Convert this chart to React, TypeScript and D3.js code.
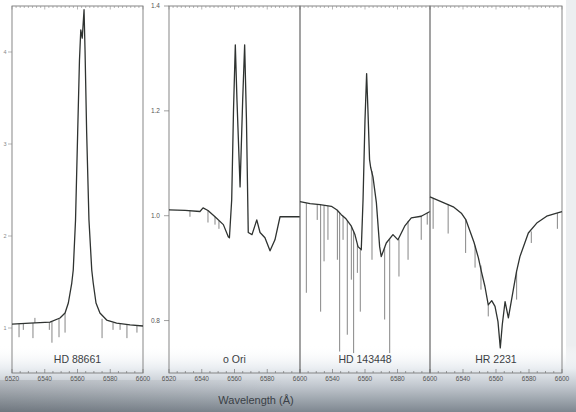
import React from "react";
import * as d3 from "d3";

// ---------- data ----------
const WAVE_DOMAIN = [6520, 6600];
const WAVE_TICKS = [6520, 6540, 6560, 6580, 6600];
const FLUX_TICKS = [0.8, 1.0, 1.2, 1.4];
const HD88661_TICKS = [1, 2, 3, 4];
const STAR_NAMES = ["HD 88661", "\u03bf Ori", "HD 143448", "HR 2231"];
const X_TITLE = "Wavelength (\u00c5)";

// [wavelength, normalised flux]
const HD88661: [number, number][] = [
  [6520, 1.043], [6531, 1.054], [6543.2, 1.065], [6549.3, 1.109], [6552.4, 1.163],
  [6554.4, 1.272], [6556.5, 1.489], [6557.4, 1.63], [6558.8, 2.174], [6560.1, 3.12],
  [6561.2, 3.91], [6562.0, 4.24], [6562.9, 4.15], [6564.0, 4.46], [6564.6, 4.02],
  [6565.6, 3.12], [6567.0, 2.174], [6568.7, 1.63], [6569.6, 1.489], [6571.3, 1.272],
  [6573.7, 1.163], [6577.8, 1.087], [6583.9, 1.054], [6592.1, 1.033], [6600, 1.022],
];
// [wavelength, continuum level, line depth]
const HD88661_LINES: [number, number, number][] = [
  [6524.3, 1.05, 0.9], [6526.9, 1.052, 0.98], [6532.8, 1.054, 0.89], [6534.0, 1.054, 1.11],
  [6542.8, 1.064, 0.98], [6544.4, 1.066, 0.84], [6548.7, 1.1, 0.9], [6552.4, 1.16, 0.95],
  [6575.0, 1.1, 0.89], [6581.7, 1.058, 0.98], [6586.0, 1.048, 0.98], [6590.2, 1.035, 0.89],
  [6596.3, 1.025, 0.95],
];

const OMI_ORI: [number, number][] = [
  [6520, 1.011], [6529.8, 1.01], [6538.9, 1.008], [6540.8, 1.015], [6543.8, 1.01],
  [6548.1, 0.998], [6553.2, 0.983], [6556.2, 0.96], [6556.9, 0.958], [6558.3, 1.031],
  [6559.4, 1.202], [6560.5, 1.326], [6561.5, 1.221], [6563.4, 1.055], [6565.0, 1.221],
  [6566.2, 1.326], [6567.3, 1.183], [6568.4, 0.968], [6570.7, 0.964], [6573.6, 0.992],
  [6575.6, 0.968], [6578.6, 0.958], [6581.7, 0.933], [6584.7, 0.954], [6587.8, 0.998],
  [6593.9, 0.998], [6600, 0.998],
];
const OMI_ORI_LINES: [number, number, number][] = [
  [6532.8, 1.01, 0.998], [6543.8, 1.01, 0.987], [6548.1, 0.998, 0.983], [6550.5, 0.99, 0.975],
];

const HD143448: [number, number][] = [
  [6520, 1.027], [6526.2, 1.023], [6532.3, 1.021], [6539.3, 1.018], [6542.8, 1.011],
  [6545.4, 1.002], [6548.3, 0.994], [6551.6, 0.98], [6553.8, 0.964], [6555.7, 0.941],
  [6557.7, 0.935], [6558.8, 1.031], [6560.0, 1.183], [6561.0, 1.271], [6561.8, 1.202],
  [6562.8, 1.107], [6563.5, 1.092], [6564.9, 1.074], [6567.0, 1.025], [6569.0, 0.941],
  [6570.0, 0.922], [6573.1, 0.948], [6577.2, 0.964], [6580.3, 0.954], [6584.4, 0.98],
  [6588.5, 0.996], [6594.6, 0.999], [6600, 1.008],
];
const HD143448_LINES: [number, number, number][] = [
  [6523.9, 1.024, 0.853], [6530.6, 1.021, 0.992], [6532.7, 1.021, 0.817], [6534.8, 1.02, 0.913],
  [6537.2, 1.019, 0.954], [6543.0, 1.011, 0.916], [6544.4, 1.005, 0.741], [6546.5, 1.0, 0.954],
  [6549.1, 0.99, 0.773], [6551.6, 0.98, 0.878], [6553.0, 0.97, 0.738], [6555.3, 0.945, 0.891],
  [6557.1, 0.935, 0.817], [6564.3, 1.085, 0.916], [6572.1, 0.94, 0.802], [6575.2, 0.955, 0.738],
  [6580.9, 0.955, 0.884], [6586.5, 0.99, 0.916], [6594.6, 1.0, 0.954], [6598.3, 1.006, 0.983],
];

const HR2231: [number, number][] = [
  [6520, 1.036], [6526.7, 1.027], [6534.1, 1.017], [6539.2, 1.004], [6541.8, 0.992],
  [6544.2, 0.971], [6546.7, 0.949], [6549.3, 0.92], [6551.2, 0.893], [6553.3, 0.865],
  [6555.3, 0.83], [6557.4, 0.838], [6559.4, 0.827], [6561.2, 0.798], [6562.6, 0.748],
  [6563.8, 0.792], [6565.5, 0.836], [6567.5, 0.805], [6570.5, 0.859], [6572.4, 0.893],
  [6574.5, 0.922], [6579.6, 0.967], [6584.7, 0.986], [6590.7, 0.999], [6596.8, 1.005],
  [6600, 1.008],
];
const HR2231_LINES: [number, number, number][] = [
  [6521.9, 1.033, 0.975], [6531.0, 1.022, 0.966], [6541.6, 0.993, 0.929], [6547.3, 0.943, 0.901],
  [6550.9, 0.905, 0.859], [6555.3, 0.83, 0.808], [6572.5, 0.893, 0.84], [6581.4, 0.97, 0.948],
  [6597.2, 1.005, 0.975],
];

// ---------- layout ----------
const W = 576;
const H = 412;
const TOP = 6;
const BOTTOM = 373;
const PANEL_X: [number, number][] = [[12, 143], [169, 300], [300, 430], [430, 562]];
const SERIES = [HD88661, OMI_ORI, HD143448, HR2231];
const LINES = [HD88661_LINES, OMI_ORI_LINES, HD143448_LINES, HR2231_LINES];
const FONT = "'Liberation Sans', Arial, Helvetica, sans-serif";

export default function App() {
  const yShared = d3.scaleLinear().domain([0.7, 1.4]).range([BOTTOM, TOP]);
  const yFirst = d3.scaleLinear().domain([0.511, 4.5]).range([BOTTOM, TOP]);

  const panels = PANEL_X.map(([x0, x1], i) => {
    const x = d3.scaleLinear().domain(WAVE_DOMAIN).range([x0, x1]);
    const y = i === 0 ? yFirst : yShared;
    const line = d3.line<[number, number]>().x((d) => x(d[0])).y((d) => y(d[1]));
    const spikes = LINES[i]
      .map(([w, top, bot]) => `M${x(w).toFixed(2)},${y(top).toFixed(2)}V${y(bot).toFixed(2)}`)
      .join("");
    const labels = i >= 2 ? WAVE_TICKS.slice(1) : WAVE_TICKS;
    const minorBottom = d3.range(6520, 6600.01, 5);
    const minorTop = d3.range(6520, 6600.01, 2.5);
    return { x, y, path: line(SERIES[i]) || "", spikes, labels, minorBottom, minorTop, x0, x1 };
  });

  return (
    <svg
      width={W}
      height={H}
      viewBox={`0 0 ${W} ${H}`}
      style={{ position: "fixed", left: 0, top: 0, background: "#fff" }}
    >
      <defs>
        <linearGradient id="shade" x1="0" y1="0" x2="0" y2="1">
          <stop offset="0" stopColor="#ffffff" stopOpacity="0" />
          <stop offset="0.35" stopColor="#e9edf1" stopOpacity="1" />
          <stop offset="0.6" stopColor="#c3c9d0" />
          <stop offset="1" stopColor="#7e8790" />
        </linearGradient>
        <linearGradient id="side" x1="0" y1="0" x2="1" y2="0">
          <stop offset="0" stopColor="#000" stopOpacity="0.12" />
          <stop offset="0.5" stopColor="#000" stopOpacity="0" />
        </linearGradient>
      </defs>
      <rect x={0} y={0} width={W} height={H} fill="#fff" />
      <rect x={566} y={0} width={10} height={H} fill="#eceef0" />
      <rect x={0} y={345} width={W} height={H - 345} fill="url(#shade)" />
      <rect x={0} y={380} width={W} height={H - 380} fill="url(#side)" />

      {panels.map((p, i) => (
        <g key={i}>
          <rect
            x={p.x0}
            y={TOP}
            width={p.x1 - p.x0}
            height={BOTTOM - TOP}
            fill="none"
            stroke="#7a7a7a"
            strokeWidth={0.9}
          />
          {p.minorBottom.map((t) => {
            const major = t % 20 === 0;
            return (
              <line
                key={`b${t}`}
                x1={p.x(t)}
                x2={p.x(t)}
                y1={BOTTOM}
                y2={BOTTOM - (major ? 4 : 2)}
                stroke="#777"
                strokeWidth={0.7}
              />
            );
          })}
          {p.minorTop.map((t) => {
            const major = t % 20 === 0;
            return (
              <line
                key={`t${t}`}
                x1={p.x(t)}
                x2={p.x(t)}
                y1={TOP}
                y2={TOP + (major ? 3.5 : 2)}
                stroke="#888"
                strokeWidth={0.6}
              />
            );
          })}
          {p.labels.map((t) => (
            <text
              key={`l${t}`}
              x={p.x(t)}
              y={381}
              fontSize={6.5}
              fontFamily={FONT}
              fill="#555"
              textAnchor="middle"
            >
              {t}
            </text>
          ))}
          <path d={p.spikes} fill="none" stroke="#5e5e5e" strokeWidth={0.75} />
          <path
            d={p.path}
            fill="none"
            stroke="#2f3331"
            strokeWidth={1.3}
            strokeLinejoin="round"
          />
          <text
            x={(p.x0 + p.x1) / 2}
            y={363}
            fontSize={10.5}
            fontFamily={FONT}
            fill="#3b3f44"
            textAnchor="middle"
          >
            {STAR_NAMES[i]}
          </text>
        </g>
      ))}

      {FLUX_TICKS.map((t) => (
        <g key={`f${t}`}>
          <line x1={164} x2={169} y1={yShared(t)} y2={yShared(t)} stroke="#777" strokeWidth={0.7} />
          <text
            x={160}
            y={yShared(t) + 2.3}
            fontSize={6.5}
            fontFamily={FONT}
            fill="#555"
            textAnchor="end"
          >
            {t.toFixed(1)}
          </text>
        </g>
      ))}

      {HD88661_TICKS.map((t) => (
        <g key={`g${t}`}>
          <line x1={8} x2={12} y1={yFirst(t)} y2={yFirst(t)} stroke="#888" strokeWidth={0.6} />
          <text
            x={6.5}
            y={yFirst(t) + 2}
            fontSize={5.5}
            fontFamily={FONT}
            fill="#888"
            textAnchor="end"
          >
            {t}
          </text>
        </g>
      ))}

      <text
        x={256}
        y={404}
        fontSize={11}
        fontFamily={FONT}
        fill="#3a3f46"
        textAnchor="middle"
      >
        {X_TITLE}
      </text>
    </svg>
  );
}
